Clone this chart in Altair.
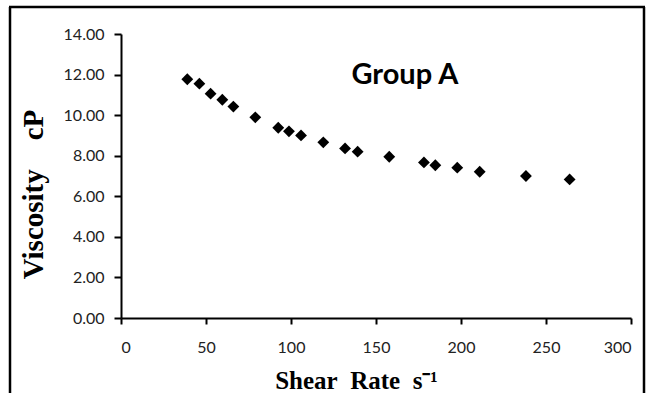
import altair as alt
import pandas as pd

shear_rate = [39.0, 46.1, 52.7, 59.6, 66.1, 79.0, 92.5, 98.8, 105.9, 119.0, 131.8,
              139.2, 157.8, 178.2, 184.9, 197.8, 211.0, 238.2, 263.9]
viscosity = [11.77, 11.55, 11.06, 10.76, 10.42, 9.89, 9.38, 9.20, 9.00, 8.66, 8.36,
             8.20, 7.95, 7.67, 7.53, 7.41, 7.21, 7.00, 6.83]
x_ticks = [0, 50, 100, 150, 200, 250, 300]
y_ticks = [0, 2, 4, 6, 8, 10, 12, 14]
label_text = ["Group A"]
label_x = [167]
label_y = [11.55]

NB = "\u00a0"
x_title = "Shear" + NB * 2 + "Rate" + NB * 2 + "s⁻¹"
y_title = "Viscosity" + NB * 4 + "cP"

df = pd.DataFrame({"shear": shear_rate, "visc": viscosity})
lab = pd.DataFrame({"x": label_x, "y": label_y, "t": label_text})

xs = alt.Scale(domain=[0, 300], nice=False)
ys = alt.Scale(domain=[0, 14], nice=False)

points = alt.Chart(df).mark_point(shape="diamond", filled=True, color="black",
                                  size=140, opacity=1).encode(
    x=alt.X("shear:Q", scale=xs,
            axis=alt.Axis(values=x_ticks, title=x_title, grid=False,
                          tickSize=6, labelPadding=15, labelFont="Lato",
                          labelFontSize=16, labelColor="#222",
                          domainColor="black", tickColor="black",
                          domainWidth=2, tickWidth=2,
                          titleFont="Liberation Serif", titleFontSize=25,
                          titleFontWeight="bold", titleColor="black",
                          titleX=235, titleY=70, titleBaseline="alphabetic",
                          titleAlign="center")),
    y=alt.Y("visc:Q", scale=ys,
            axis=alt.Axis(values=y_ticks, format=".2f", title=y_title,
                          grid=False, tickSize=7, labelPadding=10,
                          labelFont="Lato", labelFontSize=16, labelColor="#222",
                          domainColor="black", tickColor="black",
                          domainWidth=2, tickWidth=2,
                          titleFont="Liberation Serif", titleFontSize=29,
                          titleFontWeight="bold", titleColor="black",
                          titleAngle=-90, titleX=-88, titleY=160,
                          titleBaseline="middle", titleAlign="center")),
)

text = alt.Chart(lab).mark_text(font="Lato", fontSize=29, fontWeight="bold",
                                color="black", baseline="alphabetic").encode(
    x=alt.X("x:Q", scale=xs), y=alt.Y("y:Q", scale=ys), text="t:N")

frame_data = alt.Data(values=[{}])
left = alt.Chart(frame_data).mark_rule(color="black", strokeWidth=2.5).encode(
    x=alt.value(-111), y=alt.value(-27), y2=alt.value(400))
right = alt.Chart(frame_data).mark_rule(color="black", strokeWidth=2.5).encode(
    x=alt.value(523), y=alt.value(-27), y2=alt.value(400))
top = alt.Chart(frame_data).mark_rule(color="black", strokeWidth=2.5).encode(
    x=alt.value(-112), x2=alt.value(524), y=alt.value(-27))

chart = alt.layer(points, text, left, right, top).properties(
    width=510, height=284,
    autosize=alt.AutoSizeParams(type="none"),
    padding={"left": 121, "top": 34, "right": 18, "bottom": 75},
    background="white",
).configure_view(stroke=None)

chart.save("out.html", embed_options={"renderer": "svg", "actions": False})
